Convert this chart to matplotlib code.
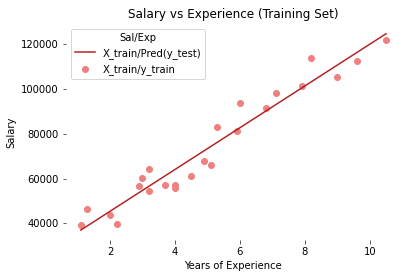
import matplotlib
matplotlib.use("Agg")
import matplotlib.pyplot as plt

# Training data (Years of Experience, Salary)
years_train = [1.1, 1.3, 2.0, 2.2, 2.9, 3.0, 3.2, 3.2, 3.7, 4.0, 4.0, 4.5,
               4.9, 5.1, 5.3, 5.9, 6.0, 6.8, 7.1, 7.9, 8.2, 9.0, 9.6, 10.5]
salary_train = [39343, 46205, 43525, 39891, 56642, 60150, 54445, 64445, 57189,
                55794, 56957, 61111, 67938, 66029, 83088, 81363, 93940, 91738,
                98273, 101302, 113812, 105582, 112635, 121872]

# Regression line (endpoints)
line_years = [1.1, 10.5]
line_pred = [37000, 124700]

fig = plt.figure(figsize=(407 / 72, 278 / 72), dpi=72)
ax = fig.add_axes([0.161, 0.137, 0.825, 0.777])

ax.plot(line_years, line_pred, color="#B22222", label="X_train/Pred(y_test)")
ax.scatter(years_train, salary_train, color="#F08080", label="X_train/y_train")

for s in ax.spines.values():
    s.set_visible(False)

ax.set_xticks([2, 4, 6, 8, 10])
ax.set_yticks([40000, 60000, 80000, 100000, 120000])
ax.tick_params(length=3.5, color="#333333")
ax.set_title("Salary vs Experience (Training Set)")
ax.set_xlabel("Years of Experience")
ax.set_ylabel("Salary")
ax.legend(title="Sal/Exp", loc="upper left")

fig.savefig("out.png", dpi=72)
